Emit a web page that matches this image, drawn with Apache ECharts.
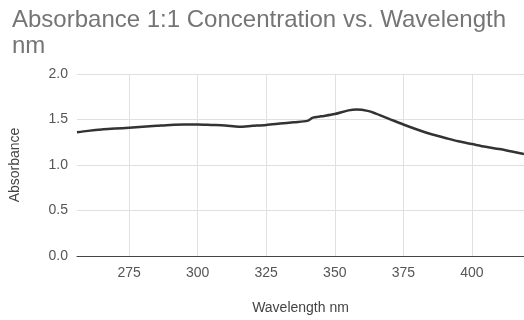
<!DOCTYPE html>
<html>
<head>
<meta charset="utf-8">
<script src="https://cdn.jsdelivr.net/npm/echarts@6/dist/echarts.min.js"></script>
<style>
  html, body { margin: 0; padding: 0; background: #fff; }
  #chart { width: 524px; height: 320px; }
</style>
</head>
<body>
<div id="chart"></div>
<script>
// Absorbance spectrum of the 1:1 concentration sample
const wavelengths = [256, 260, 265, 270, 275, 280, 285, 290, 295, 300, 305, 310, 315, 320, 325, 330, 335, 340, 342, 345, 350, 355, 358, 362, 365, 370, 375, 380, 385, 390, 395, 400, 405, 410, 415, 419];
const absorbance  = [1.36, 1.375, 1.39, 1.40, 1.41, 1.42, 1.43, 1.44, 1.445, 1.445, 1.44, 1.435, 1.42, 1.43, 1.44, 1.455, 1.47, 1.485, 1.52, 1.535, 1.56, 1.60, 1.61, 1.595, 1.565, 1.505, 1.445, 1.39, 1.34, 1.30, 1.26, 1.23, 1.20, 1.175, 1.145, 1.12];
const xTicks = [275, 300, 325, 350, 375, 400];
const yTicks = [0, 0.5, 1.0, 1.5, 2.0];

const points = wavelengths.map((w, i) => [w, absorbance[i]]);

const chart = echarts.init(document.getElementById('chart'), null, { renderer: 'canvas' });
chart.setOption({
  animation: false,
  backgroundColor: '#ffffff',
  textStyle: { fontFamily: 'Liberation Sans, Arial, sans-serif' },
  title: {
    text: 'Absorbance 1:1 Concentration vs. Wavelength\nnm',
    left: 7,
    top: 2,
    textStyle: { fontSize: 24, fontWeight: 'normal', color: '#757575', lineHeight: 26 }
  },
  grid: { left: 77, right: 0, top: 74, bottom: 63 },
  xAxis: {
    type: 'value',
    min: 256,
    max: 419,
    name: 'Wavelength nm',
    nameLocation: 'middle',
    nameGap: 45,
    nameTextStyle: { fontSize: 14, color: '#444' },
    axisLine: { show: true, lineStyle: { color: '#444', width: 1 } },
    axisTick: { show: false, customValues: xTicks },
    axisLabel: { customValues: xTicks, color: '#555', fontSize: 14, margin: 10 },
    splitLine: { show: true, lineStyle: { color: '#e0e0e0', width: 1 } }
  },
  yAxis: {
    type: 'value',
    min: 0,
    max: 2,
    interval: 0.5,
    name: 'Absorbance',
    nameLocation: 'middle',
    nameGap: 55,
    nameTextStyle: { fontSize: 14, color: '#444' },
    axisLine: { show: false },
    axisTick: { show: false },
    axisLabel: {
      color: '#555', fontSize: 14, margin: 9,
      formatter: v => yTicks.includes(v) ? v.toFixed(1) : ''
    },
    splitLine: { show: true, lineStyle: { color: '#e0e0e0', width: 1 } }
  },
  series: [{
    type: 'line',
    data: points,
    showSymbol: false,
    smooth: 0.3,
    lineStyle: { color: '#333333', width: 2.5 }
  }]
});
</script>
</body>
</html>
